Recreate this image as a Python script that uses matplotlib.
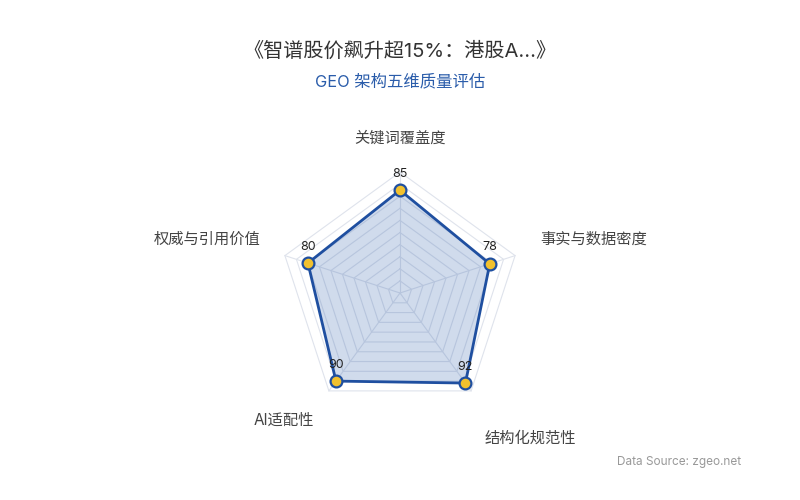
import numpy as np
import matplotlib
matplotlib.use("Agg")
import matplotlib.pyplot as plt

plt.rcParams['font.family'] = ['Inter', 'Noto Sans CJK SC', 'DejaVu Sans']

title = "《智谱股价飙升超15%：港股A...》"
subtitle = "GEO 架构五维质量评估"
categories = ["关键词覆盖度", "事实与数据密度", "结构化规范性", "AI适配性", "权威与引用价值"]
values = [85, 78, 92, 90, 80]
max_value = 100
rings = [10, 20, 30, 40, 50, 60, 70, 80, 90, 100]
source = "Data Source: zgeo.net"

W, H, DPI = 800, 500, 100
fig = plt.figure(figsize=(W / DPI, H / DPI), dpi=DPI)
ax = fig.add_axes([0, 0, 1, 1])
cx_px, cy_px, rad_px = 400, 293, 121
scale = rad_px / max_value
ax.set_xlim(-cx_px / scale, (W - cx_px) / scale)
ax.set_ylim(-(H - cy_px) / scale, cy_px / scale)
ax.axis('off')

n = len(categories)
angles = np.pi / 2 - np.arange(n) * 2 * np.pi / n
ca, sa = np.cos(angles), np.sin(angles)

grid_color = "#dfe3ec"
for r in rings:
    ax.plot(np.append(r * ca, r * ca[0]), np.append(r * sa, r * sa[0]),
            color=grid_color, lw=0.8, zorder=1)
for i in range(n):
    ax.plot([0, max_value * ca[i]], [0, max_value * sa[i]], color=grid_color, lw=0.8, zorder=1)

v = np.array(values, dtype=float)
xs, ys = v * ca, v * sa
ax.fill(xs, ys, color="#2a5caa", alpha=0.22, lw=0, zorder=2)
ax.plot(np.append(xs, xs[0]), np.append(ys, ys[0]), color="#1f4fa0", lw=2, zorder=3)
ax.plot(xs, ys, 'o', ms=8.5, mfc="#f2c12e", mec="#1f4fa0", mew=1.6, zorder=4, ls='none')

for i in range(n):
    ax.annotate(str(values[i]), (xs[i], ys[i]), xytext=(0, 7.5), textcoords='offset points',
                ha='center', va='bottom', fontsize=9, color="#222", zorder=5)

# category labels (pixel offsets from center)
label_pos = [(0, 155, 'center'), (140, 54, 'left'), (85, -145, 'left'),
             (-86, -127, 'right'), (-139, 54, 'right')]
for name, (dx, dy, ha) in zip(categories, label_pos):
    ax.text(dx / scale, dy / scale, name, ha=ha, va='center', fontsize=11, color="#444")

fig.text(0.5, 1 - 51 / H, title, ha='center', va='center', fontsize=14.5, color="#333")
fig.text(0.5, 1 - 81 / H, subtitle, ha='center', va='center', fontsize=11.8, color="#2a5caa")
fig.text(741 / W, 1 - 462 / H, source, ha='right', va='center', fontsize=8.5, color="#999")

fig.savefig("out.png", dpi=DPI, facecolor='white')
